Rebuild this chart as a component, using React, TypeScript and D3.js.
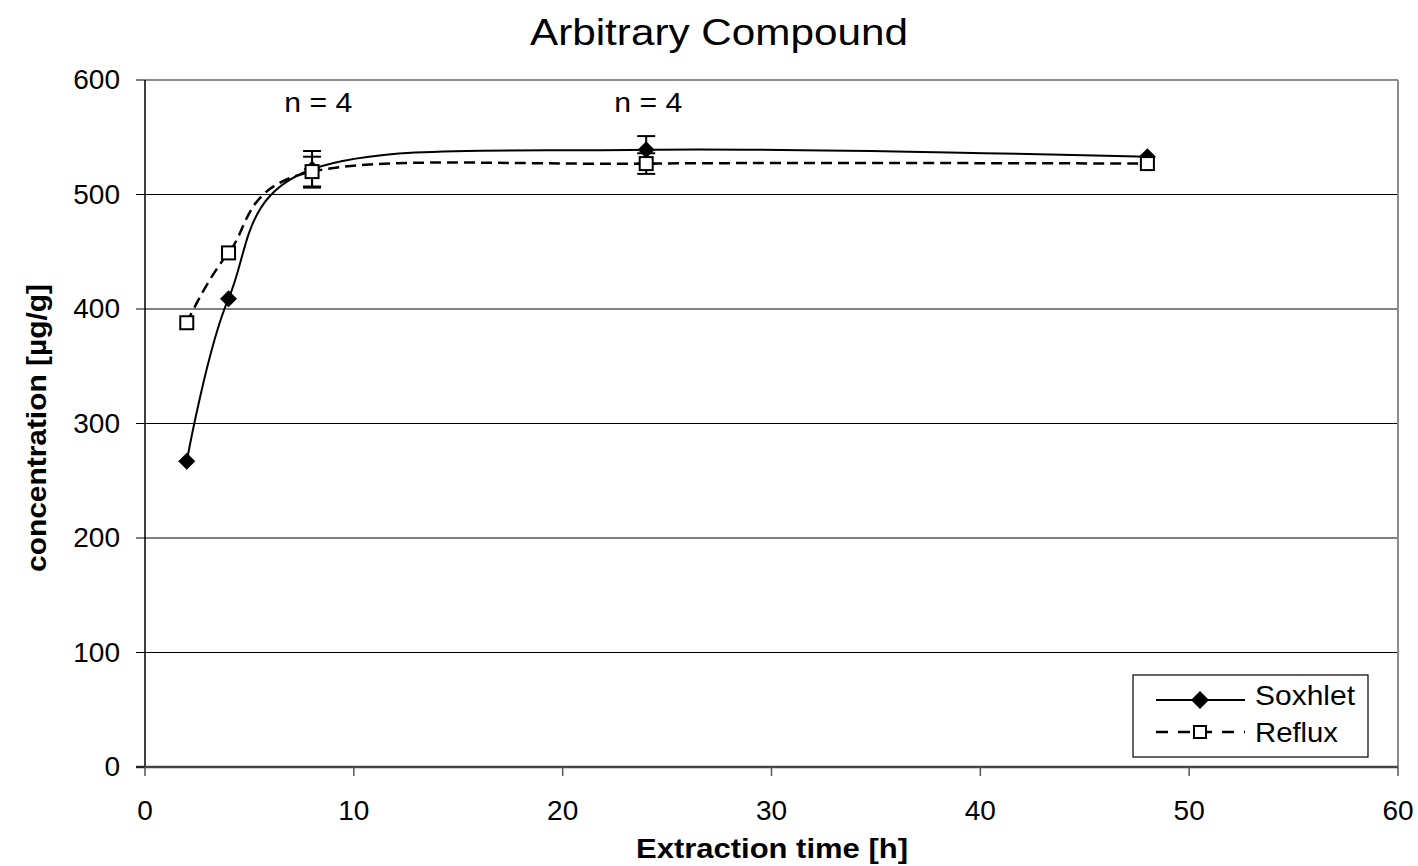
import React from "react";
import * as d3 from "d3";

const hours = [2, 4, 8, 24, 48];
const soxhlet = [267, 409, 522, 539, 533];
const reflux = [388, 449, 520, 527, 527];
const soxhletErr = [0, 0, 16, 12, 0];
const refluxErr = [0, 0, 13, 9, 0];
const xTicks = [0, 10, 20, 30, 40, 50, 60];
const yTicks = [0, 100, 200, 300, 400, 500, 600];
const annotations = [
  { x: 8.3, label: "n = 4" },
  { x: 24.1, label: "n = 4" },
];

const W = 1418, H = 866;
const M = { left: 145, right: 1398, top: 80, bottom: 767 };
const font = "Liberation Sans, Arial, sans-serif";

export default function App() {
  const x = d3.scaleLinear().domain([0, 60]).range([M.left, M.right]);
  const y = d3.scaleLinear().domain([0, 600]).range([M.bottom, M.top]);
  const line = d3
    .line<number>()
    .x((_, i) => x(hours[i]))
    .y((d) => y(d))
    .curve(d3.curveCatmullRom.alpha(0));

  const diamond = (cx: number, cy: number, r = 8.5) =>
    `M${cx},${cy - r}L${cx + r},${cy}L${cx},${cy + r}L${cx - r},${cy}Z`;

  const errBar = (xi: number, v: number, e: number, key: string) => {
    if (!e) return null;
    const cx = x(xi);
    return (
      <g key={key} stroke="#000" strokeWidth={2}>
        <line x1={cx} x2={cx} y1={y(v + e)} y2={y(v - e)} />
        <line x1={cx - 9} x2={cx + 9} y1={y(v + e)} y2={y(v + e)} />
        <line x1={cx - 9} x2={cx + 9} y1={y(v - e)} y2={y(v - e)} />
      </g>
    );
  };

  const dash = "11,6";

  return (
    <svg width={W} height={H} style={{ position: "absolute", left: 0, top: 0 }} fontFamily={font}>
      <rect width={W} height={H} fill="#fff" />
      <text x={719} y={45} fontSize={37} textAnchor="middle" textLength={378} lengthAdjust="spacingAndGlyphs">
        Arbitrary Compound
      </text>

      {/* gridlines */}
      {yTicks.filter((t) => t > 0 && t < 600).map((t) => (
        <line key={t} x1={M.left} x2={M.right} y1={y(t)} y2={y(t)} stroke="#000" strokeWidth={1} />
      ))}
      {/* plot border */}
      <line x1={M.left} x2={M.right} y1={M.top} y2={M.top} stroke="#8c8c8c" strokeWidth={2} />
      <line x1={M.right} x2={M.right} y1={M.top} y2={M.bottom} stroke="#8c8c8c" strokeWidth={2} />
      {/* axes */}
      <line x1={M.left} x2={M.left} y1={M.top} y2={M.bottom} stroke="#000" strokeWidth={1.5} />
      <line x1={M.left - 9} x2={M.right} y1={M.bottom} y2={M.bottom} stroke="#444" strokeWidth={2.5} />
      {yTicks.map((t) => (
        <g key={t}>
          <line x1={M.left - 9} x2={M.left} y1={y(t)} y2={y(t)} stroke="#000" strokeWidth={1} />
          <text x={120} y={y(t) + 9} fontSize={28} textAnchor="end">{t}</text>
        </g>
      ))}
      {xTicks.map((t) => (
        <g key={t}>
          <line x1={x(t)} x2={x(t)} y1={M.bottom} y2={M.bottom + 9} stroke="#555" strokeWidth={1.5} />
          <text x={x(t)} y={820} fontSize={28} textAnchor="middle">{t}</text>
        </g>
      ))}
      <text x={772} y={858} fontSize={28} fontWeight="bold" textAnchor="middle" textLength={272} lengthAdjust="spacingAndGlyphs">
        Extraction time [h]
      </text>
      <text transform={`translate(46,428) rotate(-90)`} fontSize={28} fontWeight="bold" textAnchor="middle" textLength={288} lengthAdjust="spacingAndGlyphs">
        concentration [µg/g]
      </text>

      {annotations.map((a, i) => (
        <text key={i} x={x(a.x)} y={112} fontSize={27} textAnchor="middle" textLength={68} lengthAdjust="spacingAndGlyphs">{a.label}</text>
      ))}

      {/* series */}
      <path d={line(soxhlet) || ""} fill="none" stroke="#000" strokeWidth={2} />
      <path d={line(reflux) || ""} fill="none" stroke="#000" strokeWidth={2.5} strokeDasharray={dash} />
      {hours.map((h, i) => errBar(h, soxhlet[i], soxhletErr[i], "se" + i))}
      {hours.map((h, i) => errBar(h, reflux[i], refluxErr[i], "re" + i))}
      {hours.map((h, i) => (
        <path key={"sm" + i} d={diamond(x(h), y(soxhlet[i]))} fill="#000" />
      ))}
      {hours.map((h, i) => (
        <rect key={"rm" + i} x={x(h) - 6.5} y={y(reflux[i]) - 6.5} width={13} height={13} fill="#fff" stroke="#000" strokeWidth={2} />
      ))}

      {/* legend */}
      <rect x={1133} y={675} width={235} height={82} fill="#fff" stroke="#000" strokeWidth={1.2} />
      <line x1={1156} x2={1245} y1={700} y2={700} stroke="#000" strokeWidth={2} />
      <path d={diamond(1200, 700, 9)} fill="#000" />
      <text x={1255} y={705} fontSize={28} textLength={100} lengthAdjust="spacingAndGlyphs">Soxhlet</text>
      <line x1={1156} x2={1245} y1={732} y2={732} stroke="#000" strokeWidth={2.5} strokeDasharray="12,10" />
      <rect x={1194} y={726} width={12} height={12} fill="#fff" stroke="#000" strokeWidth={2} />
      <text x={1255} y={742} fontSize={28} textLength={83} lengthAdjust="spacingAndGlyphs">Reflux</text>
    </svg>
  );
}
